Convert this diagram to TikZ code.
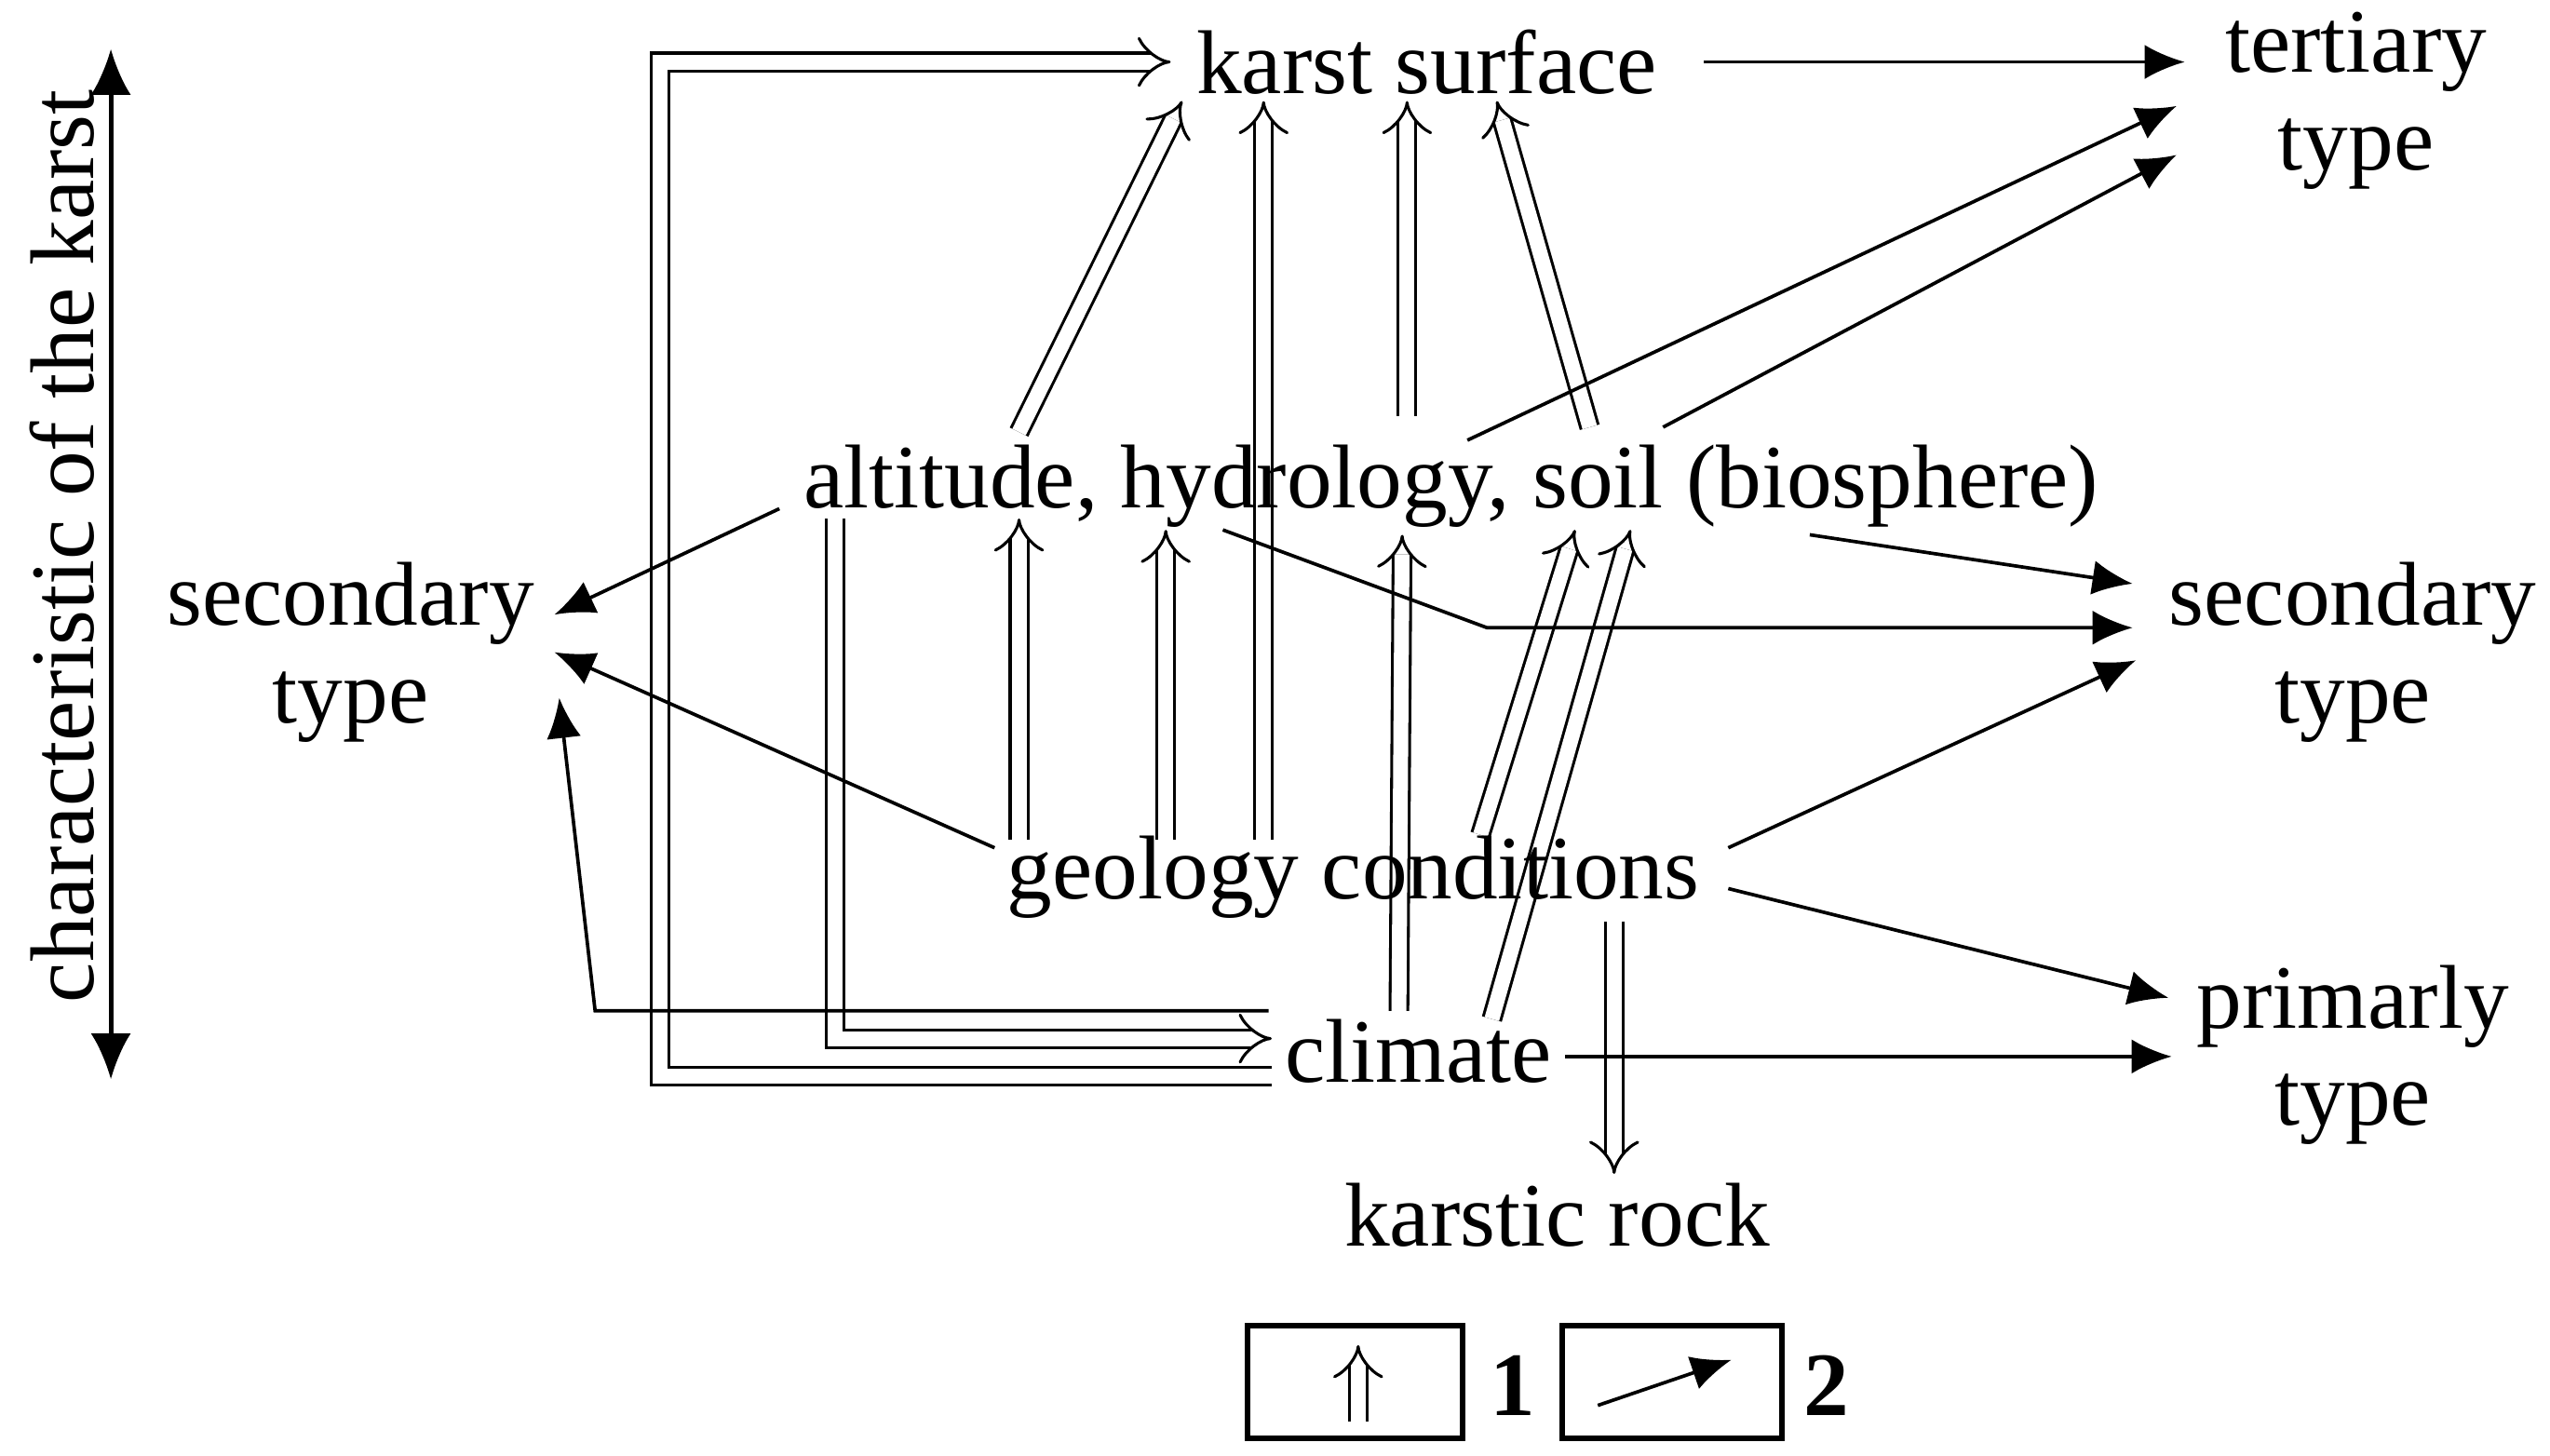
\documentclass[tikz,border=0pt]{standalone}
\usepackage{fontspec}
\setmainfont{Liberation Serif}
\usetikzlibrary{arrows.meta}
\begin{document}
\begin{tikzpicture}[x=0.01cm,y=-0.01cm,
  lbl/.style={font=\fontsize{15.8}{17}\selectfont, inner sep=1pt, align=center},
  sg/.style={line width=0.6pt, -{Latex[length=7pt,width=6pt]}},
  dbl/.style={double, double distance=2.6pt, line width=0.5pt, -{Implies}}]
\useasboundingbox (0,0) rectangle (1564,893);
\coordinate (chT) at (68,30); \coordinate (chB) at (68,662);
\coordinate (ksE) at (1045,38);
\draw[line width=0.8pt, {Latex[length=8pt,width=7pt]}-{Latex[length=8pt,width=7pt]}] (chT) -- (chB);

% double arrows
\draw[dbl] (780,660) -- (405,660) -- (405,38) -- (718,38);
\draw[dbl] (512,318) -- (512,637) -- (780,637);
\draw[dbl] (625,265) -- (725,62);
\draw[dbl] (775,515) -- (775,62);
\draw[dbl] (625,515) -- (625,318);
\draw[dbl] (715,515) -- (715,325);
\draw[dbl] (863,255) -- (863,62);
\draw[dbl] (858,620) -- (860,328);
\draw[dbl] (975,262) -- (918,62);
\draw[dbl] (908,512) -- (966,325);
\draw[dbl] (915,625) -- (1000,325);
\draw[dbl] (990,565) -- (990,720);

% single arrows
\draw[sg] (ksE) -- (1340,38);
\draw[sg] (900,270) -- (1335,65);
\draw[sg] (1020,262) -- (1335,95);
\draw[sg] (478,312) -- (340,377);
\draw[sg] (1110,328) -- (1308,358);
\draw[sg] (750,325) -- (912,385) -- (1308,385);
\draw[sg] (610,520) -- (340,400);
\draw[sg] (1060,520) -- (1310,405);
\draw[sg] (1060,545) -- (1330,612);
\draw[sg] (960,648) -- (1332,648);
\draw[sg] (778,620) -- (365,620) -- (343,428);

\node[lbl] (ks) at (875,38) {karst surface};
\node[lbl] (tt) at (1445,62) {tertiary\\type};
\node[lbl] (alt) at (890,298) {altitude, hydrology, soil (biosphere)};
\node[lbl] (sl) at (215,400) {secondary\\type};
\node[lbl] (sr) at (1443,400) {secondary\\type};
\node[lbl] (geo) at (830,538) {geology conditions};
\node[lbl] (cl) at (870,645) {climate};
\node[lbl] (pt) at (1443,647) {primarly\\type};
\node[lbl] (kr) at (955,745) {karstic rock};
\node[lbl, rotate=90] (ch) at (38,335) {characteristic of the karst};

% legend
\draw[line width=1pt] (765,813) rectangle (897,882);
\draw[line width=1pt] (958,813) rectangle (1093,882);
\draw[dbl] (833,872) -- (833,825);
\draw[sg] (980,862) -- (1062,834);
\node[lbl, font=\fontsize{15.8}{17}\bfseries] (l1) at (928,850) {1};
\node[lbl, font=\fontsize{15.8}{17}\bfseries] (l2) at (1120,850) {2};
\end{tikzpicture}
\end{document}
